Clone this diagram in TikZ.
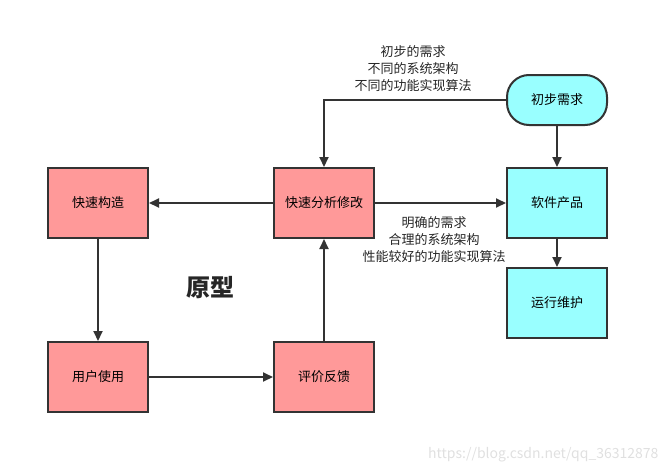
\documentclass[tikz,border=0pt]{standalone}
\usepackage{fontspec}
\setmainfont{Noto Sans CJK SC}
\usepackage{tikz}
\usetikzlibrary{arrows.meta,positioning}

\definecolor{protored}{HTML}{FF9999}
\definecolor{prodcyan}{HTML}{99FFFF}
\definecolor{edgegray}{HTML}{333333}

\tikzset{
	stepbox/.style={draw=edgegray, line width=2pt, minimum width=100pt, minimum height=70pt, inner sep=0pt, font=\fontsize{13}{15}\selectfont},
	protobox/.style={stepbox, fill=protored},
	prodbox/.style={stepbox, fill=prodcyan},
	flow/.style={draw=edgegray, line width=2pt, -{Triangle[length=10pt,width=9pt]}},
	note/.style={align=center, font=\fontsize{13}{17}\selectfont, text=black!85}
}

\begin{document}
\begin{tikzpicture}[x=1pt,y=-1pt]
	\useasboundingbox (0,0) rectangle (669,474);

	% Prototype loop
	\node [protobox] (build) at (98,203) {快速构造};
	\node [protobox] (analyse) at (324,203) {快速分析修改};
	\node [protobox] (use) at (98,377) {用户使用};
	\node [protobox] (review) at (324,377) {评价反馈};
	\node [font=\bfseries\fontsize{24}{26}\selectfont, text=black!85] (proto) at (210,288) {原型};

	% Product side
	\node [prodbox, minimum height=50pt, rounded corners=22pt] (need) at (557,100) {初步需求};
	\node [prodbox] (product) at (557,203) {软件产品};
	\node [prodbox] (maint) at (557,303) {运行维护};

	\coordinate (bend) at (324,100);

	% Arrows
	\draw [flow] (need.west) -- (bend) -- (analyse.north);
	\draw [flow] (need) -- (product);
	\draw [flow] (analyse) -- (build);
	\draw [flow] (analyse) -- (product);
	\draw [flow] (product) -- (maint);
	\draw [flow] (build) -- (use);
	\draw [flow] (use) -- (review);
	\draw [flow] (review) -- (analyse);

	% Labels on the arrows
	\node [note] (notein) at (413,69) {初步的需求\\不同的系统架构\\不同的功能实现算法};
	\node [note] (noteout) at (434,240) {明确的需求\\合理的系统架构\\性能较好的功能实现算法};

	% Watermark
	\node [anchor=east, text=black!12, font=\fontsize{14}{16}\selectfont] (mark) at (662,455) {https://blog.csdn.net/qq\_36312878};
\end{tikzpicture}
\end{document}
